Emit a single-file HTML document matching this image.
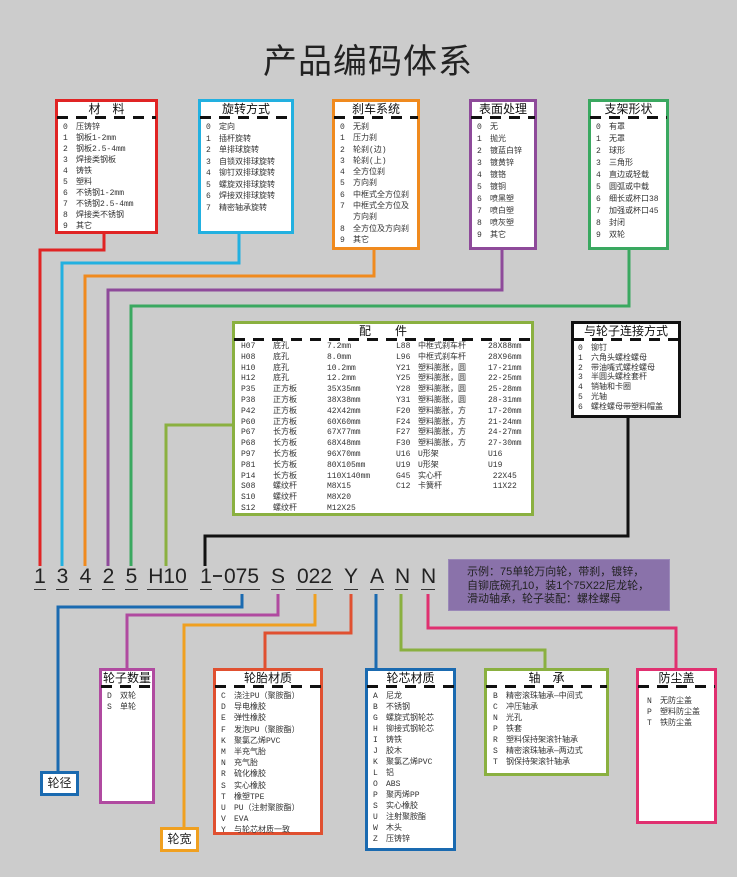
<!DOCTYPE html>
<html><head><meta charset="utf-8">
<style>
*{margin:0;padding:0;box-sizing:border-box}
body{width:737px;height:877px;background:#cccccc;position:relative;overflow:hidden;font-family:"Liberation Sans","Noto Sans CJK SC",sans-serif;color:#222}
.t{position:absolute;left:263px;top:34px;font-size:34px;letter-spacing:1px;color:#222;font-family:"Noto Sans CJK SC",sans-serif}
.bx{position:absolute;background:#fff;border:3px solid}
.hd{font-size:12px;text-align:center;line-height:14px;height:14px;color:#111;font-family:"Noto Sans CJK SC",sans-serif}
.ds{height:3px;margin:0 -1px;background:repeating-linear-gradient(90deg,#111 0 11px,transparent 11px 19px)}
.it{font-size:8px;line-height:11.2px;padding:3px 0 0 5px;white-space:pre;font-family:"Liberation Mono","Noto Sans CJK SC",monospace;color:#333}
.it b{display:inline-block;width:13px;font-weight:normal}
.col{position:absolute;top:18px;font-size:8px;line-height:10.8px;white-space:pre;font-family:"Liberation Mono","Noto Sans CJK SC",monospace;color:#333}
.code{position:absolute;top:566px;font-size:21px;line-height:22px;border-bottom:1.5px solid #333;text-align:center;color:#222;height:24px}
.ex{position:absolute;left:448px;top:559px;width:222px;height:52px;background:#8a72aa;border:1px solid #9a88b8;font-size:11px;line-height:13.5px;padding:6px 0 0 18px;color:#222;white-space:pre}
.sm{position:absolute;background:#fff;border:3px solid;font-size:12px;text-align:center;line-height:18px;font-family:"Noto Sans CJK SC",sans-serif}
</style></head><body>
<div class="t">产品编码体系</div>

<svg width="737" height="877" style="position:absolute;left:0;top:0" fill="none" stroke-width="3">
<polyline points="104,233 104,250 40,250 40,566" stroke="#e02424"/>
<polyline points="239,233 239,263 62,263 62,566" stroke="#22b0e0"/>
<polyline points="374,249 374,276 85,276 85,566" stroke="#f08a1e"/>
<polyline points="502,249 502,290 108,290 108,566" stroke="#8e4a9a"/>
<polyline points="629,249 629,306 131,306 131,566" stroke="#3aa860"/>
<polyline points="233,425 166,425 166,566" stroke="#8ab040"/>
<polyline points="628,417 628,536 205,536 205,566" stroke="#111"/>
<polyline points="242,594 242,607 58,607 58,771" stroke="#1a6ab0"/>
<polyline points="278,594 278,615 127,615 127,668" stroke="#b04aa0"/>
<polyline points="315,594 315,625 184,625 184,827" stroke="#f0a020"/>
<polyline points="351,594 351,633 265,633 265,669" stroke="#e05030"/>
<polyline points="376,594 376,669" stroke="#1a6ab0"/>
<polyline points="401,594 401,650 545,650 545,669" stroke="#8ab040"/>
<polyline points="428,594 428,628 676,628 676,669" stroke="#e03070"/>
</svg>

<div class="bx" style="left:55px;top:99px;width:103px;height:135px;border-color:#e02424"><div class="hd">材　料</div><div class="ds"></div><div class="it" style="line-height:11px"><b>0</b>压铸锌
<b>1</b>钢板1-2mm
<b>2</b>钢板2.5-4mm
<b>3</b>焊接类钢板
<b>4</b>铸铁
<b>5</b>塑料
<b>6</b>不锈钢1-2mm
<b>7</b>不锈钢2.5-4mm
<b>8</b>焊接类不锈钢
<b>9</b>其它</div></div>

<div class="bx" style="left:198px;top:99px;width:96px;height:135px;border-color:#22b0e0"><div class="hd">旋转方式</div><div class="ds"></div><div class="it" style="line-height:11.5px"><b>0</b>定向
<b>1</b>插杆旋转
<b>2</b>单排球旋转
<b>3</b>自锁双排球旋转
<b>4</b>铆钉双排球旋转
<b>5</b>螺旋双排球旋转
<b>6</b>焊接双排球旋转
<b>7</b>精密轴承旋转</div></div>

<div class="bx" style="left:332px;top:99px;width:88px;height:151px;border-color:#f08a1e"><div class="hd">刹车系统</div><div class="ds"></div><div class="it" style="line-height:11.3px"><b>0</b>无刹
<b>1</b>压力刹
<b>2</b>轮刹(边)
<b>3</b>轮刹(上)
<b>4</b>全方位刹
<b>5</b>方向刹
<b>6</b>中框式全方位刹
<b>7</b>中框式全方位及
<b></b>方向刹
<b>8</b>全方位及方向刹
<b>9</b>其它</div></div>

<div class="bx" style="left:469px;top:99px;width:68px;height:151px;border-color:#8e4a9a"><div class="hd">表面处理</div><div class="ds"></div><div class="it" style="line-height:12px"><b>0</b>无
<b>1</b>抛光
<b>2</b>镀蓝白锌
<b>3</b>镀黄锌
<b>4</b>镀铬
<b>5</b>镀铜
<b>6</b>喷黑塑
<b>7</b>喷白塑
<b>8</b>喷灰塑
<b>9</b>其它</div></div>

<div class="bx" style="left:588px;top:99px;width:81px;height:151px;border-color:#3aa860"><div class="hd">支架形状</div><div class="ds"></div><div class="it" style="line-height:12px"><b>0</b>有罩
<b>1</b>无罩
<b>2</b>球形
<b>3</b>三角形
<b>4</b>直边或轻载
<b>5</b>圆弧或中载
<b>6</b>细长或杯口38
<b>7</b>加强或杯口45
<b>8</b>封闭
<b>9</b>双轮</div></div>

<div class="bx" style="left:232px;top:321px;width:302px;height:195px;border-color:#8ab040"><div class="hd">配　　件</div><div class="ds"></div>
<div class="col" style="left:6px">H07
H08
H10
H12
P35
P38
P42
P60
P67
P68
P97
P81
P14
S08
S10
S12</div>
<div class="col" style="left:38px">底孔
底孔
底孔
底孔
正方板
正方板
正方板
正方板
长方板
长方板
长方板
长方板
长方板
螺纹杆
螺纹杆
螺纹杆</div>
<div class="col" style="left:92px">7.2mm
8.0mm
10.2mm
12.2mm
35X35mm
38X38mm
42X42mm
60X60mm
67X77mm
68X48mm
96X70mm
80X105mm
110X140mm
M8X15
M8X20
M12X25</div>
<div class="col" style="left:161px">L88
L96
Y21
Y25
Y28
Y31
F20
F24
F27
F30
U16
U19
G45
C12</div>
<div class="col" style="left:183px">中框式刹车杆
中框式刹车杆
塑料膨胀，圆
塑料膨胀，圆
塑料膨胀，圆
塑料膨胀，圆
塑料膨胀，方
塑料膨胀，方
塑料膨胀，方
塑料膨胀，方
U形架
U形架
实心杆
卡簧杆</div>
<div class="col" style="left:253px">28X88mm
28X96mm
17-21mm
22-25mm
25-28mm
28-31mm
17-20mm
21-24mm
24-27mm
27-30mm
U16
U19
 22X45
 11X22</div></div>

<div class="bx" style="left:571px;top:321px;width:110px;height:97px;border-color:#111"><div class="hd">与轮子连接方式</div><div class="ds"></div><div class="it" style="line-height:9.8px;padding-left:4px"><b>0</b>铆钉
<b>1</b>六角头螺栓螺母
<b>2</b>带油嘴式螺栓螺母
<b>3</b>半圆头螺栓套杆
<b>4</b>销轴和卡圈
<b>5</b>光轴
<b>6</b>螺栓螺母带塑料帽盖</div></div>

<div class="code" style="left:34px;width:12px">1</div>
<div class="code" style="left:56px;width:13px">3</div>
<div class="code" style="left:79px;width:13px">4</div>
<div class="code" style="left:102px;width:13px">2</div>
<div class="code" style="left:125px;width:13px">5</div>
<div class="code" style="left:147px;width:41px">H10</div>
<div class="code" style="left:200px;width:12px">1</div>
<div style="position:absolute;left:213px;top:575px;width:9px;height:1.5px;background:#333"></div>
<div class="code" style="left:223px;width:37px">075</div>
<div class="code" style="left:271px;width:14px">S</div>
<div class="code" style="left:296px;width:37px">022</div>
<div class="code" style="left:344px;width:14px">Y</div>
<div class="code" style="left:370px;width:14px">A</div>
<div class="code" style="left:395px;width:13px">N</div>
<div class="code" style="left:421px;width:14px">N</div>

<div class="ex">示例：75单轮万向轮，带刹，镀锌，
自铆底碗孔10，装1个75X22尼龙轮，
滑动轴承，轮子装配：螺栓螺母</div>

<div class="sm" style="left:40px;top:771px;width:39px;height:25px;border-color:#1a6ab0">轮径</div>
<div class="sm" style="left:160px;top:827px;width:39px;height:25px;border-color:#f0a020">轮宽</div>

<div class="bx" style="left:99px;top:668px;width:56px;height:136px;border-color:#b04aa0"><div class="hd">轮子数量</div><div class="ds"></div><div class="it"><b>D</b>双轮
<b>S</b>单轮</div></div>

<div class="bx" style="left:213px;top:668px;width:110px;height:167px;border-color:#e05030"><div class="hd">轮胎材质</div><div class="ds"></div><div class="it" style="line-height:11.2px"><b>C</b>浇注PU（聚胺酯）
<b>D</b>导电橡胶
<b>E</b>弹性橡胶
<b>F</b>发泡PU（聚胺酯）
<b>K</b>聚氯乙烯PVC
<b>M</b>半充气胎
<b>N</b>充气胎
<b>R</b>硫化橡胶
<b>S</b>实心橡胶
<b>T</b>橡塑TPE
<b>U</b>PU（注射聚胺酯）
<b>V</b>EVA
<b>Y</b>与轮芯材质一致</div></div>

<div class="bx" style="left:365px;top:668px;width:91px;height:183px;border-color:#1a6ab0"><div class="hd">轮芯材质</div><div class="ds"></div><div class="it" style="line-height:11px"><b>A</b>尼龙
<b>B</b>不锈钢
<b>G</b>螺旋式钢轮芯
<b>H</b>铆接式钢轮芯
<b>I</b>铸铁
<b>J</b>胶木
<b>K</b>聚氯乙烯PVC
<b>L</b>铝
<b>O</b>ABS
<b>P</b>聚丙烯PP
<b>S</b>实心橡胶
<b>U</b>注射聚胺酯
<b>W</b>木头
<b>Z</b>压铸锌</div></div>

<div class="bx" style="left:484px;top:668px;width:125px;height:108px;border-color:#8ab040"><div class="hd">轴　承</div><div class="ds"></div><div class="it" style="line-height:11px;padding-left:6px"><b>B</b>精密滚珠轴承—中间式
<b>C</b>冲压轴承
<b>N</b>光孔
<b>P</b>铁套
<b>R</b>塑料保持架滚针轴承
<b>S</b>精密滚珠轴承—两边式
<b>T</b>钢保持架滚针轴承</div></div>

<div class="bx" style="left:636px;top:668px;width:81px;height:156px;border-color:#e03070"><div class="hd">防尘盖</div><div class="ds"></div><div class="it" style="line-height:11px;padding:8px 0 0 8px"><b>N</b>无防尘盖
<b>P</b>塑料防尘盖
<b>T</b>铁防尘盖</div></div>
</body></html>
